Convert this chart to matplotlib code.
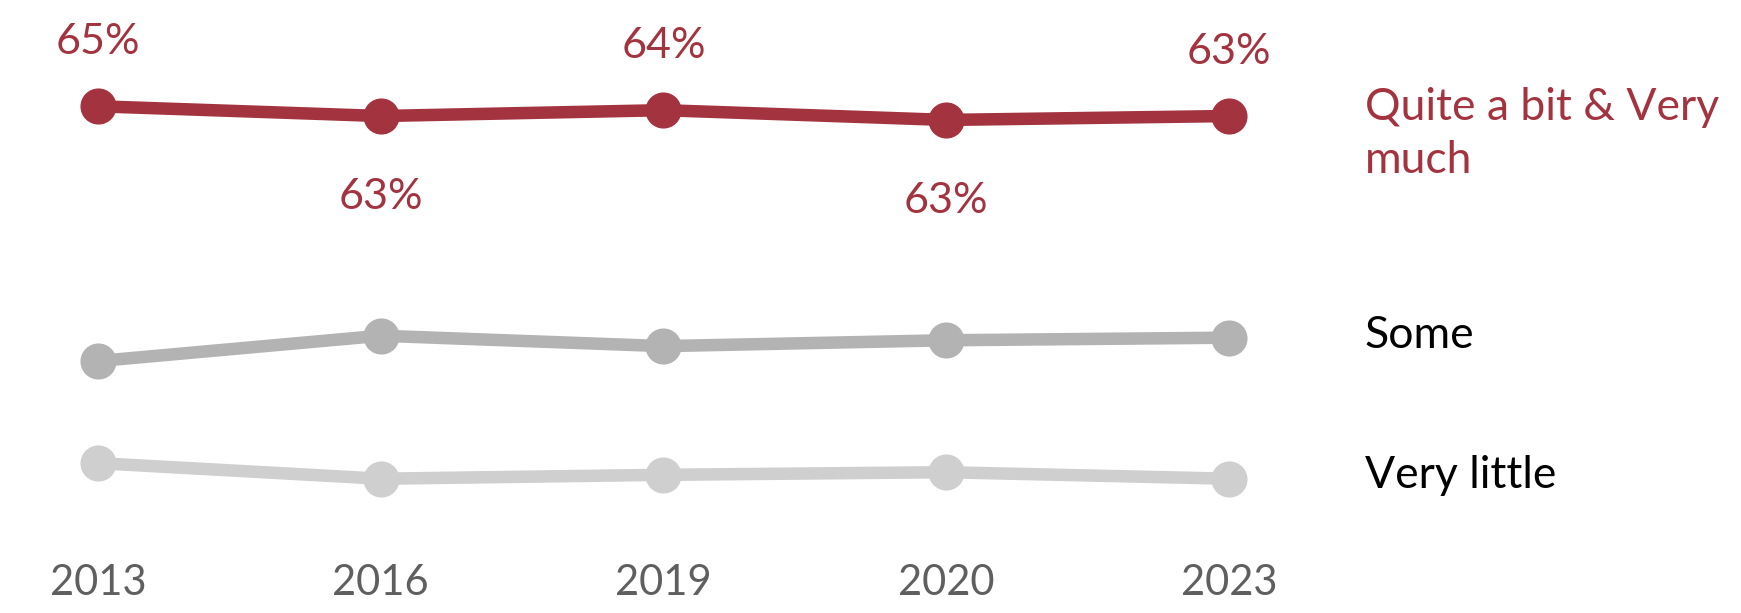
# Rating over survey waves: three response bands, direct labels on the right.

import matplotlib.pyplot as plt

years = ["2013", "2016", "2019", "2020", "2023"]
quite_a_bit = [64.7, 63.2, 64.1, 62.6, 63.2]
some = [25.5, 29.4, 27.8, 28.7, 29.1]
very_little = [9.8, 7.4, 8.0, 8.4, 7.4]
series_names = ["Quite a bit & Very\nmuch", "Some", "Very little"]

RED = "#A3333F"
GREY = "#B3B3B3"
LIGHT = "#CFCFCF"

plt.rcParams["font.family"] = ["Lato", "DejaVu Sans"]

fig = plt.figure(figsize=(17.41, 6.13), dpi=100)
ax = fig.add_axes([0, 0.1109, 1, 0.8891])

x = list(range(len(years)))
for vals, col in [(very_little, LIGHT), (some, GREY), (quite_a_bit, RED)]:
    ax.plot(x, vals, color=col, lw=9, marker="o", ms=25,
            solid_capstyle="round", zorder=3)

# value labels alternate above / below the red line
for i, v in enumerate(quite_a_bit):
    dy = 52 if i % 2 == 0 else -93
    ax.annotate(f"{v:.0f}%", (i, v), xytext=(0, dy), textcoords="offset pixels",
                ha="center", va="baseline", color=RED, fontsize=31)

# direct series labels (baseline of the last line)
label_specs = [(quite_a_bit, RED, -57), (some, "black", -10), (very_little, "black", -9)]
for name, (vals, col, dy) in zip(series_names, label_specs):
    ax.annotate(name, (x[-1], vals[-1]), xytext=(136, dy), textcoords="offset pixels",
                ha="left", va="baseline", color=col, fontsize=32, linespacing=1.37)

ax.set_xlim(-0.3466, 5.811)
ax.set_ylim(-2.8, 81.05)
ax.set_xticks(x, years)
ax.tick_params(axis="x", length=0, pad=14, labelsize=30, labelcolor="#5F5F5F")
ax.set_yticks([])
for s in ax.spines.values():
    s.set_visible(False)

fig.savefig("out.png", dpi=100)
